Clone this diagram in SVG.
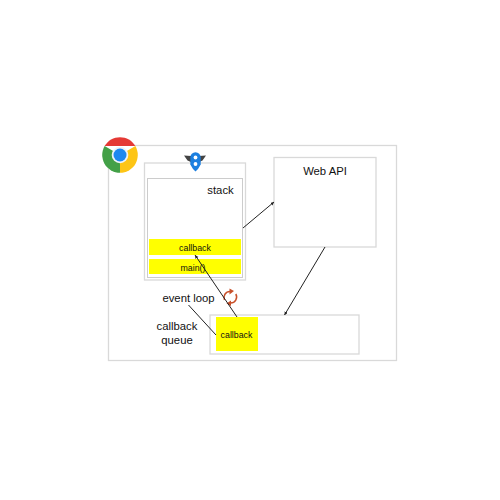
<svg xmlns="http://www.w3.org/2000/svg" width="500" height="500" viewBox="0 0 500 500">
<defs>
<marker id="a" markerWidth="4" markerHeight="4" refX="3.500" refY="1.750" orient="auto" markerUnits="userSpaceOnUse"><path d="M0 0L3.500 1.750L0 3.500Z" fill="#222"/></marker>
</defs>
<style>
.b{fill:#fff;stroke:#d9d9d9;stroke-width:1.300}
.y{fill:#ff0;stroke:none}
text{font-family:"Liberation Sans",Arial,sans-serif;fill:#111;text-anchor:middle}
.s{font-size:8.800px}
.m{font-size:11.300px}
.c{fill:none;stroke:#222;stroke-width:1;marker-end:url(#a)}
</style>
<rect width="500" height="500" fill="#fff"/>
<g id="browser"><rect class="b" x="108.500" y="145.500" width="288" height="215"/></g>
<g id="chrome">
<circle cx="120" cy="155" r="17.800" fill="#fff"/>
<path d="M104.600 146.100A17.800 17.800 0 0 1 135.400 146.100L120 146.100Z" fill="#e53935"/>
<path d="M104.600 146.100L120 155L120 172.800A17.800 17.800 0 0 1 104.600 146.100Z" fill="#43a047"/>
<path d="M135.400 146.100A17.800 17.800 0 0 1 120 172.800L120 155Z" fill="#fdc516"/>
<circle cx="120" cy="155" r="8.300" fill="#eef3f8"/>
<circle cx="120" cy="155" r="6.500" fill="#1e88f0"/>
</g>
<g id="stack-outer"><rect class="b" x="144.500" y="163" width="101" height="117"/></g>
<g id="engine">
<path d="M184 155.500L191 156L193 163L187.500 160.500Z M206 155.500L199 156L197 163L202.500 160.500Z" fill="#444"/>
<path d="M190.300 157.500A4.700 4.700 0 0 1 200.700 157.500L200.700 164.500Q198.500 169 195.500 171.500Q192.500 169 190.300 164.500Z" fill="#1b7fe0"/>
<circle cx="195.500" cy="157.500" r="1.900" fill="#fff"/><circle cx="195.500" cy="164" r="1.900" fill="#fff"/>
</g>
<g id="stack"><rect x="147.500" y="178.500" width="95" height="99" fill="#fff" stroke="#ccc"/><text class="m" x="220.500" y="193.500">stack</text></g>
<g id="frame-callback"><rect class="y" x="149" y="239" width="92" height="16"/><text class="s" x="195" y="250.500">callback</text></g>
<g id="frame-main"><rect class="y" x="149" y="259" width="92" height="15"/><text class="s" x="193" y="270.500">main()</text></g>
<g id="webapi"><rect class="b" x="274" y="157.500" width="102" height="89.500"/><text class="m" x="325" y="174.500">Web API</text></g>
<g id="queue"><rect class="b" x="210" y="315" width="149" height="39"/><rect class="y" x="216" y="317" width="42" height="34"/><text class="s" x="236.500" y="338">callback</text></g>
<g id="labels">
<text class="m" x="188.500" y="301.500">event loop</text>
<text class="m" x="177" y="330">callback</text>
<text class="m" x="177" y="344">queue</text>
</g>
<g id="loop" fill="none" stroke="#c8502a" stroke-width="1.500">
<path d="M224.500 300A6 6 0 0 1 230 291.500"/><path d="M234 291L229.500 288.500L229.500 294.500Z" fill="#c8502a" stroke="none"/>
<path d="M235.800 294A6 6 0 0 1 230.500 303"/><path d="M226.500 303.500L231 300.500L231 306Z" fill="#c8502a" stroke="none"/>
</g>
<g id="connectors">
<line class="c" x1="243" y1="228" x2="274" y2="202"/>
<line class="c" x1="325" y1="247" x2="284.500" y2="315"/>
<line class="c" x1="237" y1="317" x2="195" y2="255"/>
<line x1="188.500" y1="305" x2="216" y2="335" stroke="#222" stroke-width="1"/>
</g>
</svg>
